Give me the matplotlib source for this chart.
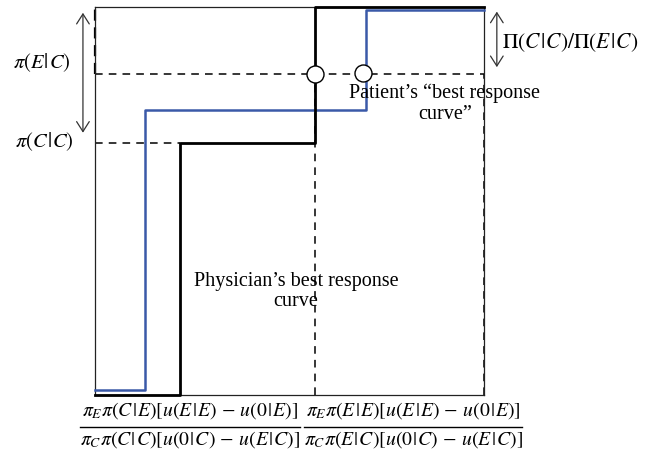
import matplotlib
matplotlib.use("Agg")
import matplotlib.pyplot as plt

plt.rcParams['font.family'] = ['Liberation Serif', 'DejaVu Serif']
plt.rcParams['mathtext.fontset'] = 'stix'

# Step curves (normalized axes units)
physician_x = [0.0, 0.2185, 0.2185, 0.5656, 0.5656, 1.0]
physician_y = [0.0, 0.0, 0.6495, 0.6495, 1.0, 1.0]
patient_x = [0.0, 0.1285, 0.1285, 0.6967, 0.6967, 1.0]
patient_y = [0.013, 0.013, 0.7345, 0.7345, 0.992, 0.992]
pi_EC = 0.8273
pi_CC = 0.6495
eq_x = [0.5656, 0.689]
eq_y = [0.8273, 0.83]

fig = plt.figure(figsize=(6.51, 4.54), dpi=100)
ax = fig.add_axes([95/651, (454-395)/454, 389/651, 388/454])
ax.set_xlim(0, 1)
ax.set_ylim(0, 1)
ax.set_xticks([])
ax.set_yticks([])
for s in ax.spines.values():
    s.set_linewidth(0.9)
    s.set_color('#222222')

# dashed guides
dkw = dict(color='black', lw=1.1, ls=(0, (5, 4)), clip_on=False)
ax.plot([0, 1], [pi_EC, pi_EC], **dkw)
ax.plot([0, 0.2185], [pi_CC, pi_CC], **dkw)
ax.plot([0.5656, 0.5656], [0, pi_EC], **dkw)
ax.plot([1, 1], [0, pi_EC], **dkw)
ax.plot([0, 0], [pi_EC, 1], color='black', lw=1.6, ls=(0, (5, 3)), clip_on=False)

ax.plot(patient_x, patient_y, color='#3a59a8', lw=1.8, clip_on=False, zorder=3)
ax.plot(physician_x, physician_y, color='black', lw=2.0, clip_on=False, zorder=4)

ax.scatter(eq_x, eq_y, s=150, facecolor='white', edgecolor='black', lw=1.0, zorder=5, clip_on=False)

# double arrows
akw = dict(arrowstyle='<->,head_length=0.55,head_width=0.35', color='#333333', lw=0.9,
           mutation_scale=13, shrinkA=0, shrinkB=0)
ax.annotate('', xy=(-0.031, 0.985), xytext=(-0.031, 0.676), xycoords='axes fraction',
            textcoords='axes fraction', arrowprops=akw, annotation_clip=False)
ax.annotate('', xy=(1.033, 0.988), xytext=(1.033, 0.845), xycoords='axes fraction',
            textcoords='axes fraction', arrowprops=akw, annotation_clip=False)

B = r'\hspace{0.08}|\hspace{0.08}'
fs = 14.5
ax.text(-0.136, 0.856, r'$\pi(E' + B + r'C)$', ha='center', va='center', fontsize=fs + 0.3, clip_on=False)
ax.text(-0.131, 0.652, r'$\pi(C' + B + r'C)$', ha='center', va='center', fontsize=fs + 0.3, clip_on=False)
ax.text(1.046, 0.907, r'$\Pi(C' + B + r'C)/\Pi(E' + B + r'C)$', ha='left', va='center',
        fontsize=15.5, clip_on=False)
ax.text(0.8997, 0.751, 'Patient\u2019s \u201cbest response\ncurve\u201d', ha='center', va='center',
        fontsize=fs, linespacing=1.1, clip_on=False)
ax.text(0.517, 0.2668, 'Physician\u2019s best response\ncurve', ha='center', va='center',
        fontsize=fs, linespacing=1.1)

# bottom fractions
num_l = r'$\pi_E\pi(C' + B + r'E)[u(E' + B + r'E)\,-\,u(0' + B + r'E)]$'
den_l = r'$\pi_C\pi(C' + B + r'C)[u(0' + B + r'C)\,-\,u(E' + B + r'C)]$'
num_r = r'$\pi_E\pi(E' + B + r'E)[u(E' + B + r'E)\,-\,u(0' + B + r'E)]$'
den_r = r'$\pi_C\pi(E' + B + r'C)[u(0' + B + r'C)\,-\,u(E' + B + r'C)]$'
fb = 14.2
for cx, x0, x1, num, den in [(0.2443, -0.0386, 0.527, num_l, den_l),
                             (0.8175, 0.5373, 1.097, num_r, den_r)]:
    ax.text(cx, -0.039, num, ha='center', va='center', fontsize=fb, clip_on=False)
    ax.text(cx, -0.116, den, ha='center', va='center', fontsize=fb, clip_on=False)
    ax.plot([x0, x1], [-0.082, -0.082], color='black', lw=1.0, clip_on=False)

fig.savefig('out.png', dpi=100)
